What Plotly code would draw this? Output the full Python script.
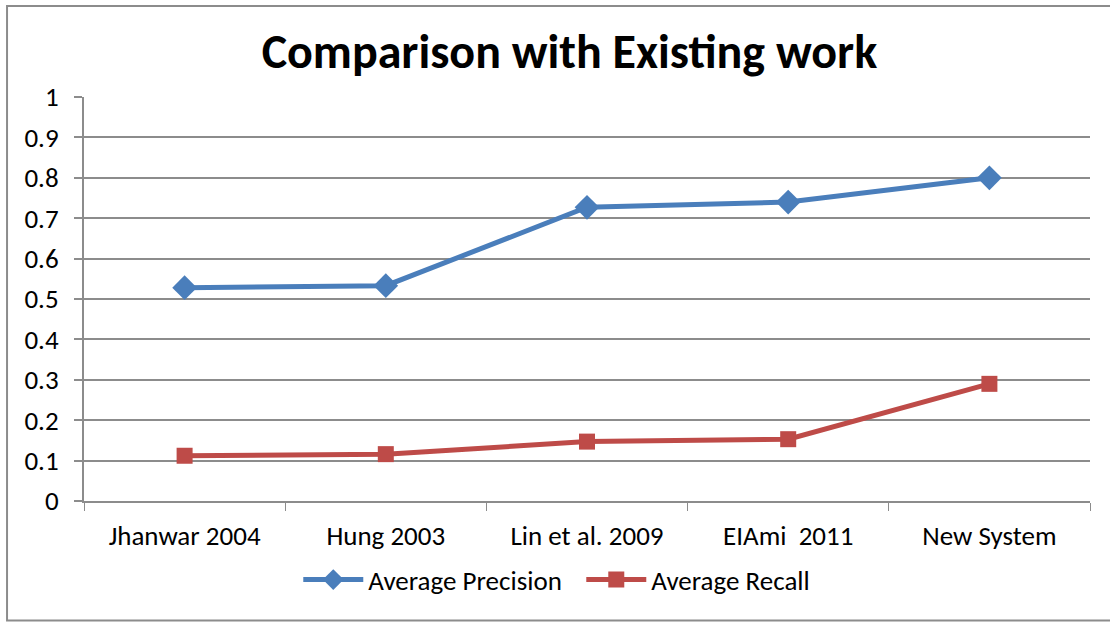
import plotly.graph_objects as go

systems = ["Jhanwar 2004", "Hung 2003", "Lin et al. 2009", "EIAmi  2011", "New System"]
avg_precision = [0.528, 0.533, 0.727, 0.740, 0.800]
avg_recall = [0.112, 0.116, 0.147, 0.153, 0.290]
y_ticks = [0, 0.1, 0.2, 0.3, 0.4, 0.5, 0.6, 0.7, 0.8, 0.9, 1]
y_tick_text = ["0", "0.1", "0.2", "0.3", "0.4", "0.5", "0.6", "0.7", "0.8", "0.9", "1"]

FONT = "Carlito, Calibri, Lato, sans-serif"
BLUE = "#4A7EBB"
RED = "#BE4B48"
GRID = "#8C8C8C"

fig = go.Figure()
fig.add_trace(go.Scatter(
    x=systems, y=avg_precision, mode="lines+markers", name="Average Precision",
    line=dict(color=BLUE, width=5),
    marker=dict(symbol="diamond", size=19, color=BLUE),
))
fig.add_trace(go.Scatter(
    x=systems, y=avg_recall, mode="lines+markers", name="Average Recall",
    line=dict(color=RED, width=5),
    marker=dict(symbol="square", size=16, color=RED),
))

fig.update_layout(
    width=1110, height=622,
    margin=dict(l=84, r=20, t=97, b=121, autoexpand=False),
    paper_bgcolor="white", plot_bgcolor="white",
    font=dict(family=FONT, size=27, color="black"),
    title=dict(
        text="<b>Comparison with Existing work</b>",
        x=0.513, xanchor="center", y=0.918, yanchor="middle",
        font=dict(family=FONT, size=48, color="black"),
    ),
    xaxis=dict(
        type="category", range=[-0.5, 4.5],
        showgrid=False, showline=True, linecolor=GRID, linewidth=2,
        ticks="outside", tickson="boundaries", ticklen=8, tickcolor=GRID, tickwidth=1,
        tickfont=dict(family=FONT, size=27), ticklabelstandoff=10,
        zeroline=False,
    ),
    yaxis=dict(
        range=[0, 1], tickvals=y_ticks, ticktext=y_tick_text,
        showgrid=True, gridcolor=GRID, gridwidth=2,
        showline=True, linecolor=GRID, linewidth=2,
        ticks="outside", ticklen=8, tickcolor=GRID, tickwidth=2,
        tickfont=dict(family=FONT, size=27), ticklabelstandoff=10,
        zeroline=False,
    ),
    legend=dict(
        orientation="h", x=0.213, xanchor="left", y=-0.135, yanchor="top",
        font=dict(family=FONT, size=27), itemwidth=60,
        entrywidth=208, entrywidthmode="pixels",
        bgcolor="rgba(0,0,0,0)",
    ),
    showlegend=True,
    shapes=[dict(
        type="rect", xref="paper", yref="paper",
        x0=-0.0765, x1=1.2, y0=-0.2955, y1=1.225,
        line=dict(color="#8C8C8C", width=2), fillcolor="rgba(0,0,0,0)", layer="below",
    )],
)

fig.write_html("out.html")
